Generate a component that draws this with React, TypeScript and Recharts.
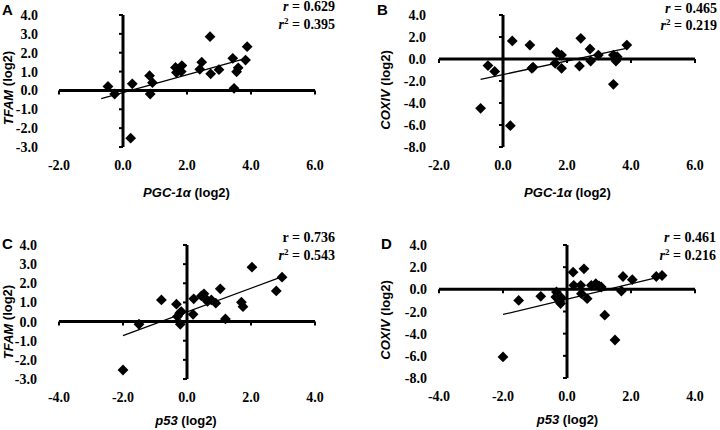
import React from 'react';
import { ScatterChart, Scatter, XAxis, YAxis, ReferenceLine, ReferenceDot } from 'recharts';

// A: PGC-1a vs TFAM
const PGC_A = [-0.47, -0.26, 0.24, 0.29, 0.83, 0.85, 0.92, 1.64, 1.67, 1.82, 1.84, 2.4, 2.46, 2.72, 2.74, 3.0, 3.43, 3.47, 3.55, 3.6, 3.83, 3.88];
const TFAM_A = [0.21, -0.19, -2.53, 0.35, 0.78, -0.19, 0.41, 1.22, 0.95, 1.0, 1.32, 1.12, 1.5, 2.85, 0.88, 1.1, 1.7, 0.11, 0.99, 1.2, 1.61, 2.32];
const FIT_A_X = [-0.68, 3.9];
const FIT_A_Y = [-0.43, 1.73];

// B: PGC-1a vs COXIV
const PGC_B = [-0.7, -0.47, -0.26, 0.23, 0.29, 0.84, 0.9, 0.94, 1.63, 1.68, 1.83, 1.83, 2.39, 2.43, 2.72, 2.74, 2.98, 3.45, 3.45, 3.53, 3.57, 3.87];
const COX_B = [-4.48, -0.6, -1.13, -6.06, 1.64, 1.27, -0.85, -0.75, -0.39, 0.61, 0.36, -0.85, -0.64, 1.88, 0.91, -0.18, 0.36, -2.3, 0.36, -0.18, 0.21, 1.27];
const FIT_B_X = [-0.7, 3.85];
const FIT_B_Y = [-1.85, 0.96];

// C: p53 vs TFAM
const P53_C = [-2.0, -1.5, -0.8, -0.33, -0.3, -0.23, -0.18, -0.21, 0.19, 0.21, 0.45, 0.53, 0.57, 0.64, 0.76, 0.9, 1.04, 1.2, 1.7, 1.75, 2.03, 2.79, 2.97];
const TFAM_C = [-2.53, -0.14, 1.13, 0.91, 0.26, 0.44, 0.52, -0.14, 0.38, 1.19, 1.34, 1.45, 1.22, 1.05, 1.13, 0.96, 1.71, 0.14, 1.01, 0.78, 2.84, 1.6, 2.32];
const FIT_C_X = [-2.0, 3.0];
const FIT_C_Y = [-0.73, 2.36];

// D: p53 vs COXIV
const P53_D = [-2.0, -1.51, -0.82, -0.33, -0.35, -0.23, -0.2, -0.18, 0.19, 0.21, 0.53, 0.43, 0.45, 0.63, 0.76, 0.9, 1.0, 1.07, 1.18, 1.5, 1.7, 1.75, 2.04, 2.79, 2.97];
const COX_D = [-6.1, -1.0, -0.63, -0.24, -0.69, -1.07, -1.28, -0.75, 1.55, 0.36, 1.85, 0.36, -0.39, -0.84, 0.36, 0.51, 0.3, 0.21, -2.33, -4.57, -0.15, 1.16, 0.87, 1.16, 1.25];
const FIT_D_X = [-2.0, 2.74];
const FIT_D_Y = [-2.27, 1.01];

const TICKS_PGC = [-2, 0, 2, 4, 6];
const TICKS_P53 = [-4, -2, 0, 2, 4];
const TICKS_TFAM = [-3, -2, -1, 0, 1, 2, 3, 4];
const TICKS_COX = [-8, -6, -4, -2, 0, 2, 4];

const SERIF = '"Liberation Serif", "Times New Roman", serif';
const SANS = '"Liberation Sans", Arial, sans-serif';

const toPoints = (xs: number[], ys: number[]) => xs.map((x, i) => ({ x, y: ys[i] }));

const Diamond = (props: any) => {
  const { cx, cy } = props;
  const h = 5.4;
  return <path d={`M${cx},${cy - h}L${cx + h},${cy}L${cx},${cy + h}L${cx - h},${cy}Z`} fill="#000" />;
};

const XTick = (props: any) => {
  const { x, y, payload } = props;
  return (
    <text x={x} y={y + 23} textAnchor="middle" fill="#000" fontSize={14} fontFamily={SERIF} fontWeight="bold">
      {Number(payload.value).toFixed(1)}
    </text>
  );
};

const makeYTick = (gap: number) => (props: any) => {
  const { x, y, payload } = props;
  return (
    <text x={x - gap} y={y + 5} textAnchor="end" fill="#000" fontSize={14} fontFamily={SERIF} fontWeight="bold">
      {Number(payload.value).toFixed(1)}
    </text>
  );
};

interface PanelProps {
  left: number;
  top: number;
  plot: { l: number; r: number; t: number; b: number };
  yGap: number;
  xs: number[];
  ys: number[];
  fitX: number[];
  fitY: number[];
  xTicks: number[];
  yTicks: number[];
}

function Panel({ left, top, plot, yGap, xs, ys, fitX, fitY, xTicks, yTicks }: PanelProps) {
  const W = 360;
  const H = 215;
  const xAxisH = 30;
  const data = toPoints(xs, ys);
  return (
    <div style={{ position: 'absolute', left, top }}>
      <ScatterChart
        width={W}
        height={H}
        margin={{ top: plot.t, right: W - plot.r, left: 0, bottom: H - plot.b - xAxisH }}
      >
        <XAxis
          type="number"
          dataKey="x"
          domain={[xTicks[0], xTicks[xTicks.length - 1]]}
          ticks={xTicks}
          interval={0}
          height={xAxisH}
          axisLine={false}
          tickLine={false}
          tickSize={0}
          tickMargin={0}
          tick={XTick}
        />
        <YAxis
          type="number"
          dataKey="y"
          domain={[yTicks[0], yTicks[yTicks.length - 1]]}
          ticks={yTicks}
          interval={0}
          width={plot.l}
          axisLine={false}
          tickLine={false}
          tickSize={0}
          tickMargin={0}
          tick={makeYTick(yGap)}
        />
        <ReferenceLine x={0} stroke="#000" strokeWidth={3} />
        <ReferenceLine y={0} stroke="#000" strokeWidth={3} />
        {yTicks.map((v) => (
          <ReferenceDot
            key={`yt${v}`}
            x={0}
            y={v}
            shape={(p: any) => <line x1={p.cx - 4} y1={p.cy} x2={p.cx} y2={p.cy} stroke="#000" strokeWidth={2} />}
          />
        ))}
        {xTicks.map((v) => (
          <ReferenceDot
            key={`xt${v}`}
            x={v}
            y={0}
            shape={(p: any) => <line x1={p.cx} y1={p.cy} x2={p.cx} y2={p.cy + 4} stroke="#000" strokeWidth={2} />}
          />
        ))}
        <ReferenceLine
          segment={[
            { x: fitX[0], y: fitY[0] },
            { x: fitX[1], y: fitY[1] },
          ]}
          stroke="#000"
          strokeWidth={1.3}
        />
        <Scatter data={data} shape={Diamond} isAnimationActive={false} />
      </ScatterChart>
    </div>
  );
}

const RText = ({ x, y, r, r2, italicR = true }: { x: number; y: number; r: string; r2: string; italicR?: boolean }) => (
  <g fontFamily={SERIF} fontWeight="bold" fontSize={14} fill="#000" textAnchor="end">
    <text x={x} y={y}>
      <tspan fontStyle={italicR ? 'italic' : 'normal'}>r</tspan> = {r}
    </text>
    <text x={x} y={y + 17.5}>
      <tspan fontStyle="italic">r</tspan>
      <tspan fontSize={9} dy={-5}>2</tspan>
      <tspan dy={5}> = {r2}</tspan>
    </text>
  </g>
);

const YTitle = ({ x, y, gene }: { x: number; y: number; gene: string }) => (
  <text
    x={x}
    y={y}
    transform={`rotate(-90, ${x}, ${y})`}
    textAnchor="middle"
    dominantBaseline="central"
    fontFamily={SANS}
    fontWeight="bold"
    fontSize={13}
    fill="#000"
  >
    <tspan fontStyle="italic">{gene}</tspan> (log2)
  </text>
);

const XTitle = ({ x, y, gene }: { x: number; y: number; gene: string }) => (
  <text x={x} y={y} textAnchor="middle" fontFamily={SANS} fontWeight="bold" fontSize={13} fill="#000">
    <tspan fontStyle="italic">{gene}</tspan> (log2)
  </text>
);

const Letter = ({ x, y, c }: { x: number; y: number; c: string }) => (
  <text x={x} y={y} fontFamily={SANS} fontWeight="bold" fontSize={15} fill="#000">
    {c}
  </text>
);

export default function App() {
  return (
    <div style={{ position: 'absolute', left: 0, top: 0, width: 720, height: 430, background: '#fff' }}>
      <Panel left={0} top={0} plot={{ l: 59, r: 315, t: 15, b: 147 }} yGap={21} xs={PGC_A} ys={TFAM_A} fitX={FIT_A_X} fitY={FIT_A_Y} xTicks={TICKS_PGC} yTicks={TICKS_TFAM} />
      <Panel left={360} top={0} plot={{ l: 79, r: 335, t: 15, b: 147 }} yGap={13} xs={PGC_B} ys={COX_B} fitX={FIT_B_X} fitY={FIT_B_Y} xTicks={TICKS_PGC} yTicks={TICKS_COX} />
      <Panel left={0} top={215} plot={{ l: 59, r: 315, t: 30, b: 164 }} yGap={22} xs={P53_C} ys={TFAM_C} fitX={FIT_C_X} fitY={FIT_C_Y} xTicks={TICKS_P53} yTicks={TICKS_TFAM} />
      <Panel left={360} top={215} plot={{ l: 79, r: 335, t: 30, b: 163 }} yGap={12} xs={P53_D} ys={COX_D} fitX={FIT_D_X} fitY={FIT_D_Y} xTicks={TICKS_P53} yTicks={TICKS_COX} />
      <svg width={720} height={430} style={{ position: 'absolute', left: 0, top: 0, pointerEvents: 'none' }}>
        <Letter x={2} y={15} c="A" />
        <Letter x={377} y={15} c="B" />
        <Letter x={2} y={249} c="C" />
        <Letter x={381} y={249} c="D" />
        <RText x={335} y={11} r="0.629" r2="0.395" />
        <RText x={717} y={12.5} r="0.465" r2="0.219" />
        <RText x={335} y={242} r="0.736" r2="0.543" italicR={false} />
        <RText x={716} y={242} r="0.461" r2="0.216" />
        <YTitle x={7.5} y={88} gene="TFAM" />
        <YTitle x={385} y={90} gene="COXIV" />
        <YTitle x={7.5} y={322} gene="TFAM" />
        <YTitle x={385} y={320} gene="COXIV" />
        <XTitle x={186.5} y={197} gene="PGC-1α" />
        <XTitle x={567.5} y={197} gene="PGC-1α" />
        <XTitle x={186} y={425} gene="p53" />
        <XTitle x={567.5} y={424} gene="p53" />
      </svg>
    </div>
  );
}
